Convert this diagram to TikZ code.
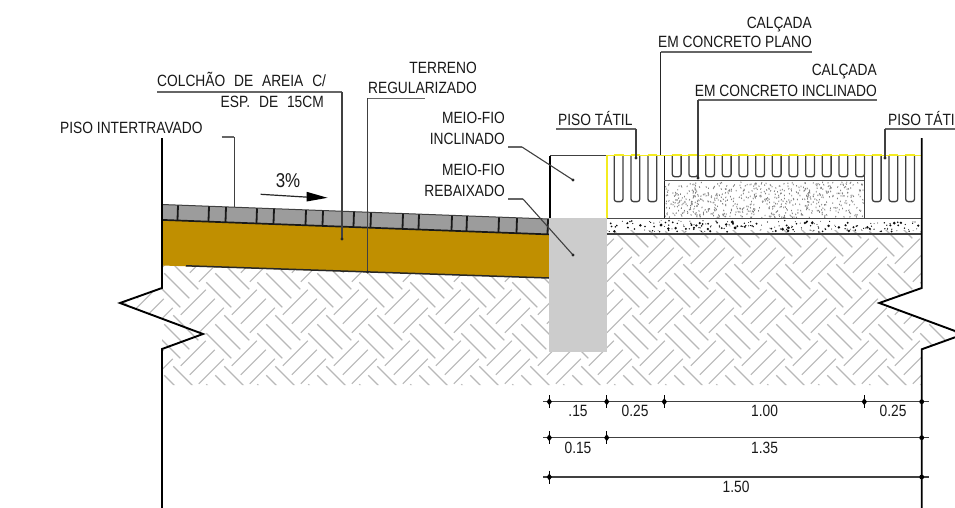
\documentclass[tikz,border=0pt]{standalone}
\usepackage{fontspec}
\setmainfont[FakeStretch=0.845]{Liberation Sans}
\definecolor{sandc}{HTML}{C08F00}
\definecolor{paverc}{HTML}{9C9C9C}
\definecolor{curbc}{HTML}{CCCCCC}
\definecolor{hatchc}{HTML}{B8B8B8}
\definecolor{leaderc}{HTML}{404040}
\definecolor{yel}{HTML}{F4EC20}
\tikzset{
  lab/.style={inner sep=0pt,font=\fontsize{16.3}{18}\selectfont,text=black!90},
  labe/.style={lab,anchor=base east},
  labw/.style={lab,anchor=base west},
  labc/.style={lab,anchor=base},
  leader/.style={draw=leaderc,line width=1.1pt},
  under/.style={draw=leaderc!80,line width=1.4pt},
  wall/.style={draw=black,line width=1.9pt,line join=miter},
  hatchl/.style={draw=hatchc,line width=1.1pt},
  groove/.style={draw=black!75,line width=1.3pt,rounded corners=2.5pt,fill=white},
  dimline/.style={draw=leaderc,line width=1.2pt},
  ldot/.style={fill=black!85,draw=none},
}
\newcommand{\lddot}[2]{\fill[ldot] (#1,#2) circle (1.6);}
\newcommand{\dimtick}[2]{\draw[black,line width=1.1pt] (#1,#2-6.5) -- (#1,#2+6.5);\fill[black] (#1-2.6,#2) -- (#1,#2-3.5) -- (#1+2.6,#2) -- (#1,#2+3.5) -- cycle;}
\begin{document}
\begin{tikzpicture}[x=1pt,y=-1pt]
\useasboundingbox (0,0) rectangle (955,508);
\fill[white] (0,0) rectangle (955,508);
% ground hatch
\begin{scope}
\clip (162,265) -- (162,288) -- (120,303) -- (162,319) -- (162,385) -- (921.5,385) -- (921.5,349) -- (955,337) -- (955,331) -- (879,303) -- (921.5,288) -- (921.5,230) -- (607,230) -- (607,278) -- (549,278) -- cycle;
\foreach \i in {-20,...,12}{
  \foreach \j in {-3,...,4}{
    \pgfmathtruncatemacro\parit{mod(abs(\i+\j),2)}
    \ifnum\parit=0
      \pgfmathsetmacro\cx{635.8+25.5*\i}
      \pgfmathsetmacro\cy{285.8+25.5*\j}
      \pgfmathtruncatemacro\ev{mod(abs(\i),2)}
      \ifnum\ev=0
        \foreach \o in {-9,0,9}{\draw[hatchl] (\cx-\o-12.5,\cy+\o-12.5) -- (\cx-\o+12.5,\cy+\o+12.5);}
      \else
        \foreach \o in {-9,0,9}{\draw[hatchl] (\cx+\o-12.5,\cy+\o+12.5) -- (\cx+\o+12.5,\cy+\o-12.5);}
      \fi
    \fi
  }
}
\end{scope}
% sand bed
\fill[sandc] (162,220) -- (549,234) -- (549,278) -- (162,265.5) -- cycle;
\draw[black!85,line width=1.5pt] (186,265.8) -- (549,278);
% pavers
\fill[paverc] (162,204.5) -- (549,219) -- (549,234) -- (162,219.5) -- cycle;
\draw[black!75,line width=1pt] (162,204.5) -- (549,219);
\draw[black!90,line width=1.7pt] (162,219.9) -- (549,234.4);
\foreach \x in {178,209,226,257,274,306,323,354,371,403,419,452,467,499,517,548}{
  \draw[black!90,line width=1.8pt] (\x,{204.7+0.0375*(\x-162)}) -- (\x-0.5,{219.5+0.0375*(\x-162)});
}
% curb
\fill[curbc] (549,218) rectangle (607,352);
\draw[wall] (550,218) -- (550,155.5);
\draw[black!75,line width=1.8pt] (550,155.5) -- (607,155.5);
\draw[yel,line width=1.3pt] (607,155) -- (607,218);
% gravel
\pgfmathsetseed{7}
\foreach \n in {1,...,620}{
  \pgfmathsetmacro\xa{665.5+rnd*197.5}
  \pgfmathsetmacro\ya{181.5+rnd*35.5}
  \pgfmathsetmacro\dxa{rnd*1.6-0.8}
  \draw[black!50,line width=0.8pt] (\xa,\ya) -- ++(\dxa,1.4);
}
% concrete band
\foreach \n in {1,...,200}{
  \pgfmathsetmacro\xa{608+rnd*312}
  \pgfmathsetmacro\ya{220.5+rnd*11.5}
  \pgfmathsetmacro\ra{0.45+rnd*rnd*1.3}
  \fill[black!95] (\xa,\ya) circle (\ra);
}
\draw[black!70,line width=1.5pt] (607,218.5) -- (921,218.5);
\draw[black!75,line width=2pt] (607,233.8) -- (921,233.8);
% structure of the walk
\draw[black!90,line width=1.3pt] (664.3,155) -- (664.3,218);
\draw[black!75,line width=1.3pt] (864.3,155) -- (864.3,218);
\draw[black!65,line width=1.3pt] (664.3,180.3) -- (864.3,180.3);
% tactile grooves
\foreach \x in {614.2,631,648,872.3,889,905.7}{
  \draw[groove] (\x,155) -- (\x,201.6) -- (\x+8.8,201.6) -- (\x+8.8,155);
  \draw[yel,line width=1.2pt] (\x-0.5,154.2) -- (\x+9.3,154.2);
}
\foreach \k in {0,...,11}{
  \pgfmathsetmacro\x{672.3+16.67*\k}
  \draw[groove] (\x,155) -- (\x,176.7) -- (\x+8.8,176.7) -- (\x+8.8,155);
  \draw[yel,line width=1.2pt] (\x-0.5,154.2) -- (\x+9.3,154.2);
}
\draw[yel,line width=1.3pt] (607,155.5) -- (921,155.5);
% walls with break marks
\draw[wall] (162,138) -- (162,288) -- (120,303) -- (203,334) -- (162,349) -- (162,508);
\draw[wall] (921.7,138) -- (921.7,288) -- (879.3,303) -- (955,331) (955,337.3) -- (921.7,349.3) -- (921.7,508);
% labels
\node[labw] (colchao) at (157,86.7) {COLCHÃO\hspace{5pt} DE\hspace{5pt} AREIA\hspace{5pt} C/};
\node[labe] (esp) at (324,107.7) {ESP.\hspace{5pt} DE\hspace{5pt} 15CM};
\node[labw] (intertravado) at (60,134) {PISO INTERTRAVADO};
\node[labe] (terreno) at (477,74) {TERRENO};
\node[labe] (regularizado) at (477,94) {REGULARIZADO};
\node[labe] (meiofioa) at (505,123.3) {MEIO-FIO};
\node[labe] (inclinado) at (505,144.3) {INCLINADO};
\node[labe] (meiofiob) at (505,175) {MEIO-FIO};
\node[labe] (rebaixado) at (505,196) {REBAIXADO};
\node[labw] (tatila) at (558,125.7) {PISO TÁTIL};
\node[labe] (calcadaa) at (812,28.3) {CALÇADA};
\node[labe] (planoa) at (812,47.7) {EM CONCRETO PLANO};
\node[labe] (calcadab) at (877,75.7) {CALÇADA};
\node[labe] (inclinadob) at (877,96.7) {EM CONCRETO INCLINADO};
\node[labw] (tatilb) at (888,125.7) {PISO TÁTIL};
\node[lab,anchor=base,font=\fontsize{20}{22}\selectfont] (pct) at (288,187.7) {3\%};
% slope arrow
\draw[black!85,line width=1.2pt] (260.7,194.3) -- (308,197.2);
\fill[black] (306.7,191.8) -- (327.5,197.8) -- (306.7,201.5) -- cycle;
% leaders
\draw[under] (157,92) -- (342,92);
\draw[leader] (342,92) -- (342,239);\lddot{342}{239}
\draw[under] (221.5,136.8) -- (234.3,136.8);
\draw[leader] (234.3,136.8) -- (234.3,207);
\draw[under] (367.5,98.3) -- (425,98.3);
\draw[leader] (367.5,98.3) -- (367.5,272);\lddot{367.5}{272}
\draw[under] (508,147) -- (522,147);
\draw[leader] (522,147) -- (573,180);\lddot{573}{180}
\draw[under] (508,199) -- (523,199);
\draw[leader] (523,199) -- (573,255);\lddot{573}{255}
\draw[under] (556,129) -- (636,129);
\draw[leader] (636,129) -- (636,158);\lddot{636}{158}
\draw[under] (660.5,52) -- (812,52);
\draw[leader,draw=black!85] (660.5,52) -- (660.5,155);
\draw[under] (698,100) -- (877,100);
\draw[leader] (698,100) -- (698,178);\lddot{698}{178}
\draw[under] (885,129) -- (955,129);
\draw[leader] (885,129) -- (885,158);\lddot{885}{158}
% dimensions
\draw[dimline] (543,401.7) -- (929,401.7);
\draw[dimline] (543,437.7) -- (929,437.7);
\draw[dimline] (543,477) -- (929,477);
\foreach \x in {549.3,606.7,664.3,864.3}{\dimtick{\x}{401.7}}
\foreach \x in {549.3,606.7}{\dimtick{\x}{437.7}}
\dimtick{549.3}{477}
\foreach \y in {401.7,437.7,477}{\fill[black] (921.7,\y) circle (2.4);}
\node[labc] (da) at (578,416.7) {.15};
\node[labc] (db) at (635,416.7) {0.25};
\node[labc] (dc) at (764.5,416.7) {1.00};
\node[labc] (dd) at (893,416.7) {0.25};
\node[labc] (de) at (578,453.3) {0.15};
\node[labc] (df) at (764.5,453.3) {1.35};
\node[labc] (dg) at (736,492.7) {1.50};
\end{tikzpicture}
\end{document}
